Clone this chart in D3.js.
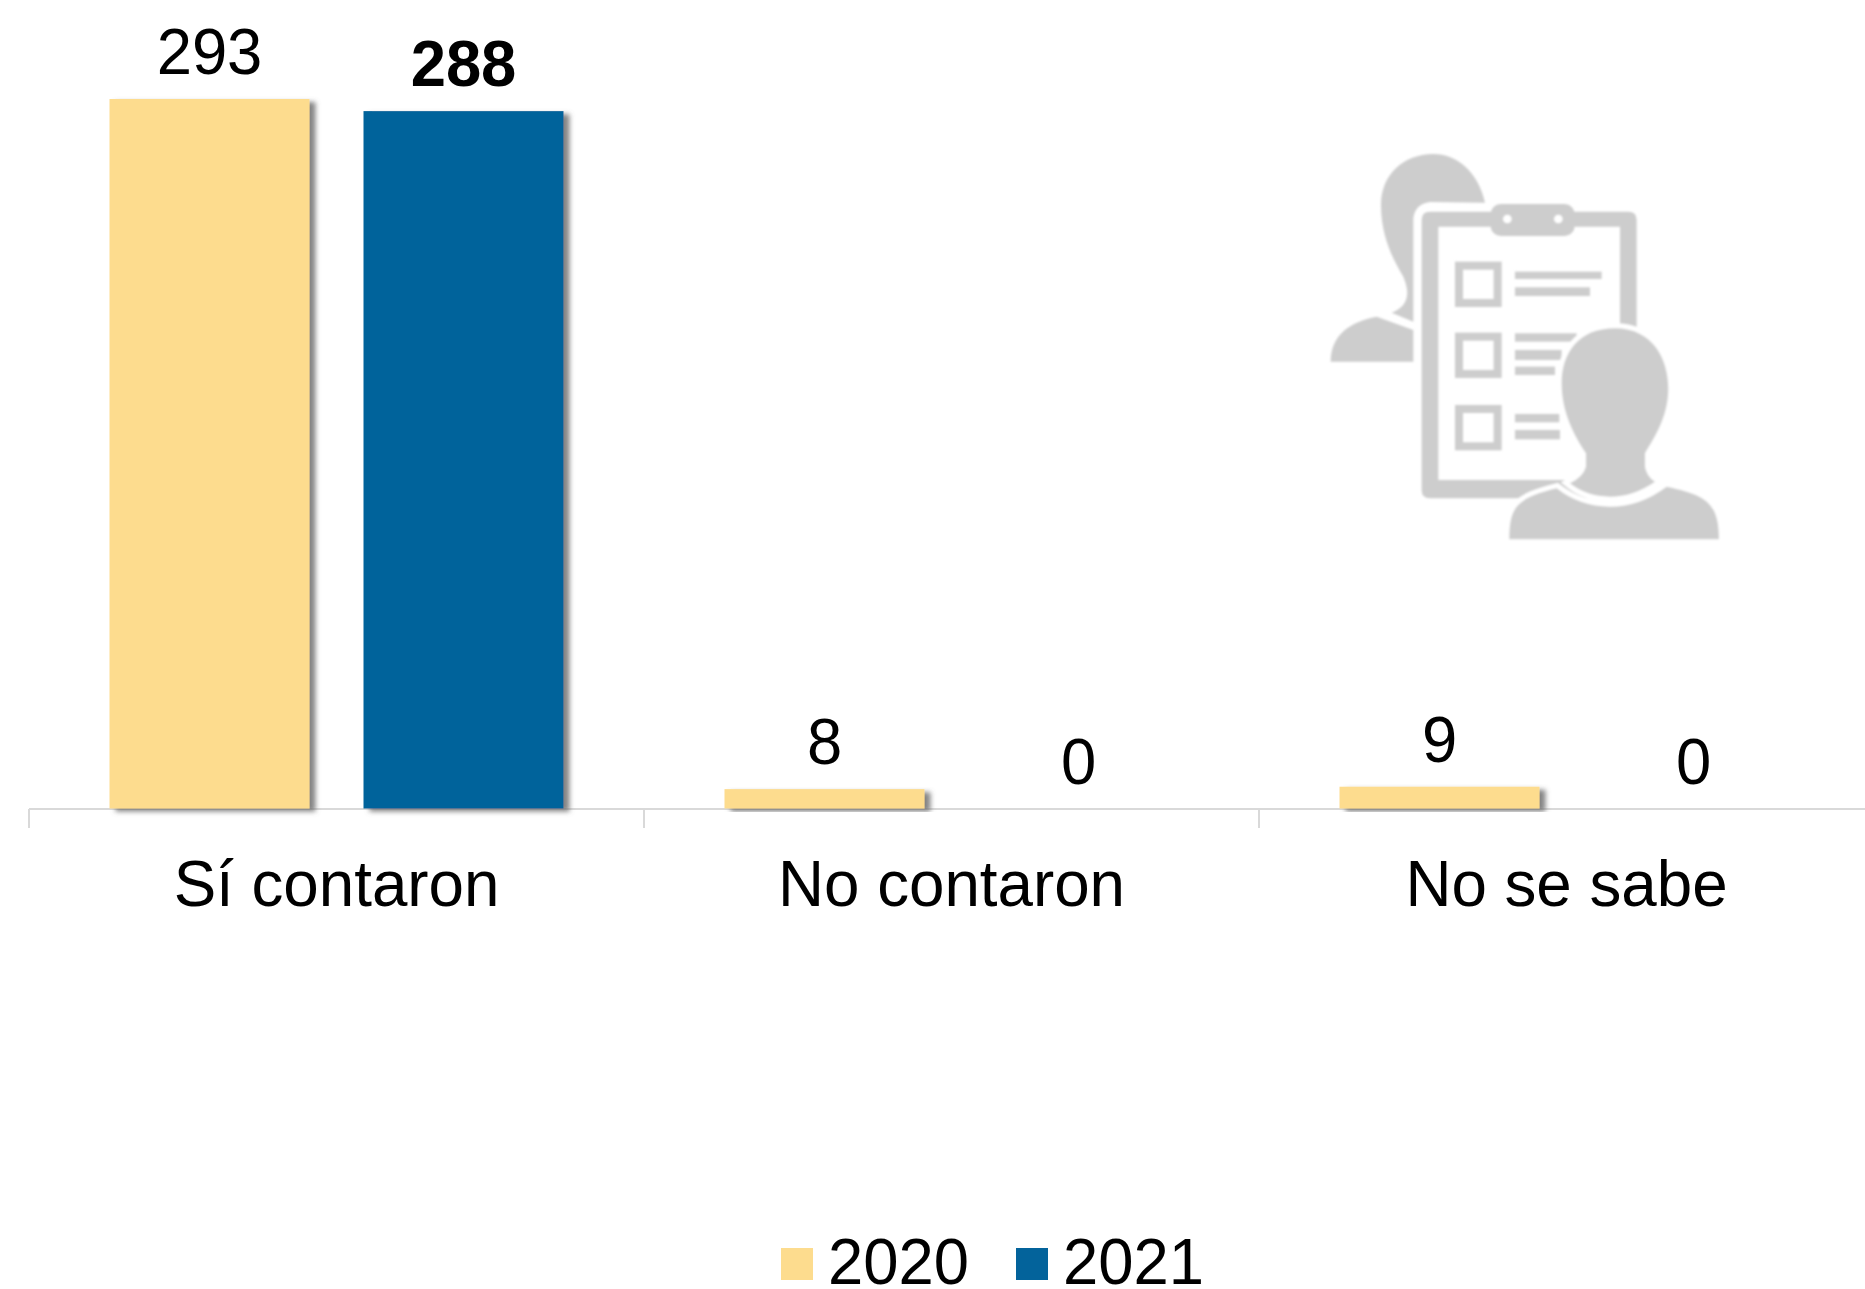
<!DOCTYPE html>
<html>
<head>
<meta charset="utf-8">
<script src="https://cdnjs.cloudflare.com/ajax/libs/d3/7.8.5/d3.min.js"></script>
<style>
html,body{margin:0;padding:0;background:#fff;overflow:hidden}
svg{display:block}
text{font-family:"Liberation Sans",Arial,sans-serif;fill:#000}
</style>
</head>
<body>
<svg id="chart" width="1865" height="1289"></svg>
<script>
const categories = ["Sí contaron", "No contaron", "No se sabe"];
const seriesNames = ["2020", "2021"];
const values2020 = [293, 8, 9];
const values2021 = [288, 0, 0];
const seriesColors = ["#FDDC8E", "#03639B"];
const boldLabels = [null, 0]; // per series: category index whose label is bold

const W = 1865, H = 1289;
const baseY = 808.5, axisLeft = 29, bandW = 615;
const svg = d3.select("#chart");

const defs = svg.append("defs");
const f = defs.append("filter").attr("id","shadow").attr("x","-10%").attr("y","-10%").attr("width","125%").attr("height","125%");
f.append("feDropShadow").attr("dx",6).attr("dy",3).attr("stdDeviation",2.6).attr("flood-color","#666").attr("flood-opacity",0.8);
const fb = defs.append("filter").attr("id","soft");
fb.append("feGaussianBlur").attr("stdDeviation",3);

const x0 = d3.scaleBand().domain(categories).range([axisLeft, axisLeft + bandW * categories.length]);
const x1 = d3.scaleBand().domain(seriesNames).range([0, bandW]).paddingInner(0.2126).paddingOuter(0.3169);
const y = d3.scaleLinear().domain([0, 293]).range([baseY, 99]);

// Axis
const axisG = svg.append("g");
axisG.append("line").attr("x1",axisLeft).attr("x2",W).attr("y1",809).attr("y2",809)
  .attr("stroke","#d9d9d9").attr("stroke-width",2);
axisG.selectAll("line.tick").data(categories).join("line").attr("class","tick")
  .attr("x1",d=>x0(d)).attr("x2",d=>x0(d)).attr("y1",809).attr("y2",828)
  .attr("stroke","#d9d9d9").attr("stroke-width",2);

// Bars and labels
const seriesValues = [values2020, values2021];
seriesNames.forEach((s, si) => {
  const rows = categories.map((c, i) => ({c, i, v: seriesValues[si][i]}));
  svg.append("g").selectAll("rect").data(rows.filter(d => d.v > 0)).join("rect")
    .attr("x", d => x0(d.c) + x1(s))
    .attr("y", d => y(d.v))
    .attr("width", x1.bandwidth())
    .attr("height", d => y(0) - y(d.v))
    .attr("fill", seriesColors[si])
    .attr("filter", "url(#shadow)");
  svg.append("g").selectAll("text").data(rows).join("text")
    .attr("transform", d => `translate(${x0(d.c) + x1(s) + x1.bandwidth() / 2},${y(d.v) - 25}) scale(0.975,1)`)
    .attr("text-anchor", "middle")
    .attr("font-size", 65)
    .attr("font-weight", d => boldLabels[si] === d.i ? "bold" : "normal")
    .text(d => d.v);
});

// Category labels
svg.append("g").selectAll("text").data(categories).join("text")
  .attr("transform", d => `translate(${x0(d) + bandW / 2},906) scale(0.98,1)`)
  .attr("text-anchor", "middle")
  .attr("font-size", 65)
  .text(d => d);

// Legend
const legendX = [781, 1016];
const legend = svg.append("g").selectAll("g").data(seriesNames).join("g")
  .attr("transform", (d,i) => `translate(${legendX[i]},1248)`);
legend.append("rect").attr("width",32).attr("height",32).attr("fill",(d,i)=>seriesColors[i]);
legend.append("text").attr("transform","translate(47,36) scale(0.975,1)").attr("font-size",65).text(d=>d);

// Decorative icon
const icon = svg.append("g").attr("transform","translate(1300,130) scale(0.3333)").attr("filter","url(#soft)");
const G = "#cdcdcd";
icon.append("path").attr("fill",G).attr("d","M555,218 C535,125 470,72 400,72 C310,72 243,135 243,225 C243,320 280,390 310,440 C322,470 325,490 318,510 C310,530 295,540 275,548 L340,575 L340,265 Q345,222 390,216 Z");
icon.append("path").attr("fill",G).attr("d","M92,695 C92,615 150,575 230,560 L340,600 L340,695 Z");
// clipboard
icon.append("path").attr("fill",G).attr("fill-rule","evenodd")
  .attr("d","M390,245 H985 Q1010,245 1010,270 V1080 Q1010,1105 985,1105 H390 Q365,1105 365,1080 V270 Q365,245 390,245 Z M415,290 V1050 H960 V290 Z");
icon.append("rect").attr("x",572).attr("y",222).attr("width",252).attr("height",96).attr("rx",30)
  .attr("fill",G);
[622,775].forEach(cx => icon.append("circle").attr("cx",cx).attr("cy",267).attr("r",13).attr("fill","#fff"));
// checkboxes
[395,608,825].forEach(top => icon.append("rect").attr("x",477).attr("y",top+12).attr("width",116).attr("height",112)
  .attr("fill","none").attr("stroke",G).attr("stroke-width",24));
// text lines
[[645,425,905,447],[645,472,870,498],[645,610,830,635],[645,660,785,690],[645,710,765,735],[645,852,778,877],[645,900,780,928]]
  .forEach(r => icon.append("rect").attr("x",r[0]).attr("y",r[1]).attr("width",r[2]-r[0]).attr("height",r[3]-r[1]).attr("fill",G));
// front person
icon.append("path").attr("fill",G).attr("stroke","#fff").attr("stroke-width",30).attr("paint-order","stroke")
  .attr("d","M628,1228 C628,1130 650,1105 770,1075 Q840,1130 930,1130 Q1020,1130 1100,1070 C1220,1095 1257,1120 1257,1228 Z");
icon.append("path").attr("fill",G).attr("stroke","#fff").attr("stroke-width",30).attr("paint-order","stroke")
  .attr("d","M945,595 C1060,595 1105,690 1105,775 C1105,860 1065,920 1035,970 L1035,1010 Q1040,1040 1065,1055 Q1000,1100 930,1100 Q860,1100 810,1060 Q850,1040 858,1010 L858,970 C825,920 785,850 785,760 C785,670 835,595 945,595 Z");
</script>
</body>
</html>
